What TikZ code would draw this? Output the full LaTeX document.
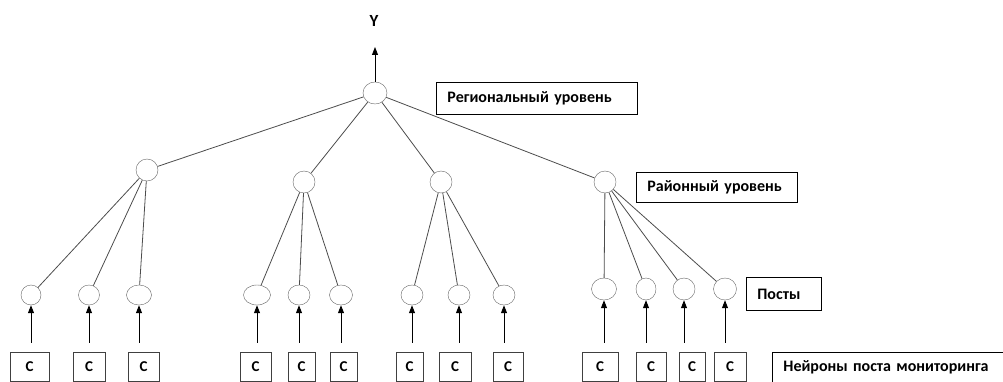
\documentclass[tikz,border=0pt]{standalone}
\usepackage{fontspec}
\setmainfont{Carlito}
\usepackage{tikz}
\usetikzlibrary{shapes.geometric,arrows.meta}

\begin{document}
\begin{tikzpicture}[
  x=1pt, y=-1pt,
  neur/.style={draw=black!60, ellipse, inner sep=0pt, minimum width=22pt, minimum height=22pt},
  post/.style={draw=black!60, ellipse, inner sep=0pt, minimum width=22pt, minimum height=20pt},
  cbox/.style={draw=black!75, thick, minimum height=29pt, inner sep=0pt, font=\bfseries\fontsize{15}{17}\selectfont},
  tag/.style={draw, thick, anchor=north west, inner xsep=11pt, inner ysep=0pt, align=left,
              font=\bfseries\fontsize{16}{18}\selectfont},
  ln/.style={black!70, line width=0.8pt},
  up/.style={-{Triangle[length=8pt,width=6pt]}, line width=0.9pt, shorten <=9pt}
]
\useasboundingbox (0,0) rectangle (1003,382);

% ---------------- region ----------------
\node[neur, minimum width=24pt] (reg) at (375,93) {};
\coordinate (yout) at (375,47);
\node[font=\bfseries\fontsize{17}{19}\selectfont] (ylbl) at (374,21) {Y};
\draw[up, shorten <=0pt] (reg) -- (yout);
\node[tag, text width=179pt, minimum height=32pt] (tReg) at (436,82) {Региональный уровень};

% ---------------- districts ----------------
\node[neur] (d1) at (147,170) {};
\node[neur] (d2) at (304,182) {};
\node[neur] (d3) at (441,182) {};
\node[neur] (d4) at (605,182) {};
\node[tag, text width=139pt, minimum height=30pt] (tDis) at (636,172) {Районный уровень};
\draw[ln] (reg) -- (d1);
\draw[ln] (reg) -- (d2);
\draw[ln] (reg) -- (d3);
\draw[ln] (reg) -- (d4);

% ---------------- posts ----------------
\node[post, minimum width=20pt] (p1) at (31,295) {};
\node[post, minimum width=21pt] (p2) at (89,295) {};
\node[post, minimum width=25pt] (p3) at (139,295) {};
\node[post, minimum width=27pt] (p4) at (257,295) {};
\node[post] (p5) at (299,295) {};
\node[post, minimum width=23pt] (p6) at (341,295) {};
\node[post] (p7) at (412,295) {};
\node[post] (p8) at (459,295) {};
\node[post] (p9) at (504,295) {};
\node[post, minimum width=25pt, minimum height=22pt] (p10) at (604,289) {};
\node[post, minimum width=20pt, minimum height=22pt] (p11) at (646,289) {};
\node[post, minimum height=22pt] (p12) at (684,289) {};
\node[post, minimum width=23pt, minimum height=22pt] (p13) at (725,289) {};
\node[tag, text width=53pt, minimum height=33pt] (tPost) at (746,277) {Посты};

\draw[ln] (d1) -- (p1);
\draw[ln] (d1) -- (p2);
\draw[ln] (d1) -- (p3);
\draw[ln] (d2) -- (p4);
\draw[ln] (d2) -- (p5);
\draw[ln] (d2) -- (p6);
\draw[ln] (d3) -- (p7);
\draw[ln] (d3) -- (p8);
\draw[ln] (d3) -- (p9);
\draw[ln] (d4) -- (p10);
\draw[ln] (d4) -- (p11);
\draw[ln] (d4) -- (p12);
\draw[ln] (d4) -- (p13);

% ---------------- monitoring neurons ----------------
\node[cbox, minimum width=39pt] (c1) at (29.5,366.5) {С};
\node[cbox, minimum width=32pt] (c2) at (89,366.5) {С};
\node[cbox, minimum width=31pt] (c3) at (143.5,366.5) {С};
\node[cbox, minimum width=31pt] (c4) at (255.5,366.5) {С};
\node[cbox, minimum width=27pt] (c5) at (301.5,366.5) {С};
\node[cbox, minimum width=27pt] (c6) at (343.5,366.5) {С};
\node[cbox, minimum width=27pt] (c7) at (409.5,366.5) {С};
\node[cbox, minimum width=32pt] (c8) at (455,366.5) {С};
\node[cbox, minimum width=30pt] (c9) at (508,366.5) {С};
\node[cbox, minimum width=36pt] (c10) at (600,366.5) {С};
\node[cbox, minimum width=30pt] (c11) at (651,366.5) {С};
\node[cbox, minimum width=26pt] (c12) at (692,366.5) {С};
\node[cbox, minimum width=32pt] (c13) at (730,366.5) {С};
\node[tag, text width=238pt, minimum height=30pt] (tNeur) at (772,352) {Нейроны поста мониторинга};

\draw[up] (p1.south |- c1.north) -- (p1.south);
\draw[up] (p2.south |- c2.north) -- (p2.south);
\draw[up] (p3.south |- c3.north) -- (p3.south);
\draw[up] (p4.south |- c4.north) -- (p4.south);
\draw[up] (p5.south |- c5.north) -- (p5.south);
\draw[up] (p6.south |- c6.north) -- (p6.south);
\draw[up] (p7.south |- c7.north) -- (p7.south);
\draw[up] (p8.south |- c8.north) -- (p8.south);
\draw[up] (p9.south |- c9.north) -- (p9.south);
\draw[up] (p10.south |- c10.north) -- (p10.south);
\draw[up] (p11.south |- c11.north) -- (p11.south);
\draw[up] (p12.south |- c12.north) -- (p12.south);
\draw[up] (p13.south |- c13.north) -- (p13.south);
\end{tikzpicture}
\end{document}
